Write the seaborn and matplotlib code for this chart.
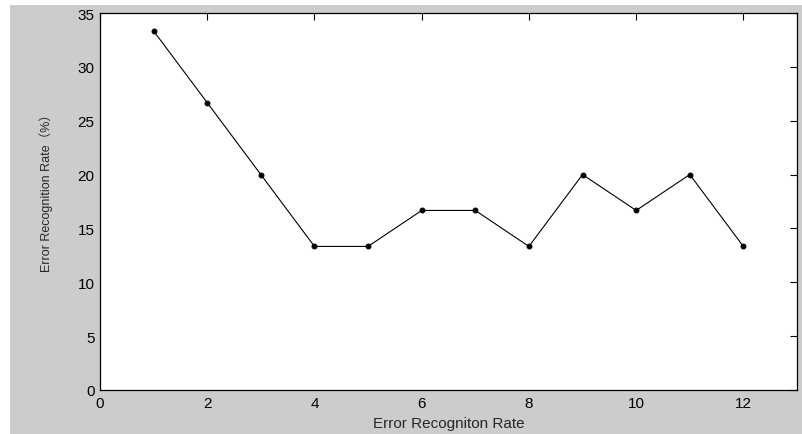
import matplotlib
matplotlib.use("Agg")
import matplotlib.pyplot as plt
import matplotlib.patches as mpatches
import pandas as pd
import seaborn as sns

# ---------------------------------------------------------------------------
# Data
# ---------------------------------------------------------------------------
X_VALUES = [1, 2, 3, 4, 5, 6, 7, 8, 9, 10, 11, 12]
RATES = [33.33, 26.67, 20.0, 13.33, 13.33, 16.67, 16.67, 13.33, 20.0, 16.67, 20.0, 13.33]
X_TICKS = [0, 2, 4, 6, 8, 10, 12]
Y_TICKS = [0, 5, 10, 15, 20, 25, 30, 35]

X_LABEL = "Error Recogniton Rate"
Y_LABEL = "Error Recognition Rate（%）"

df = pd.DataFrame({"x": X_VALUES, "rate": RATES})

# ---------------------------------------------------------------------------
# Style
# ---------------------------------------------------------------------------
sns.set_theme(style="white")
plt.rcParams["font.family"] = ["Liberation Sans", "Noto Sans CJK SC", "DejaVu Sans"]

BG_GRAY = "#cccccc"

fig = plt.figure(figsize=(8.02, 4.35), dpi=100, facecolor="white")
# MATLAB-style gray figure area, inset slightly from top/left
fig.patches.append(mpatches.Rectangle(
    (10 / 802, 0), 1 - 10 / 802, 1 - 6 / 435,
    transform=fig.transFigure, facecolor=BG_GRAY, edgecolor="none", zorder=-10,
))

ax = fig.add_axes([100 / 802, 44 / 435, 697 / 802, 377 / 435])
ax.set_zorder(5)
ax.set_facecolor("white")

sns.lineplot(
    data=df, x="x", y="rate",
    color="black", linewidth=0.8,
    marker="o", markersize=3.5, markeredgecolor="black",
    ax=ax,
)

ax.set_xlim(0, 13)
ax.set_ylim(0, 35)
ax.set_xticks(X_TICKS)
ax.set_yticks(Y_TICKS)
ax.tick_params(
    axis="both", direction="in", length=5, width=0.8,
    top=True, right=True, labelsize=11, colors="black", pad=4,
)
for s in ax.spines.values():
    s.set_visible(True)
    s.set_color("black")
    s.set_linewidth(0.9)

ax.set_xlabel(X_LABEL, fontsize=11, labelpad=5)
ax.set_ylabel(Y_LABEL, fontsize=9)
ax.yaxis.set_label_coords(-0.068, 0.533)
ax.grid(False)

fig.savefig("out.png", dpi=100, facecolor=fig.get_facecolor())
plt.close(fig)
